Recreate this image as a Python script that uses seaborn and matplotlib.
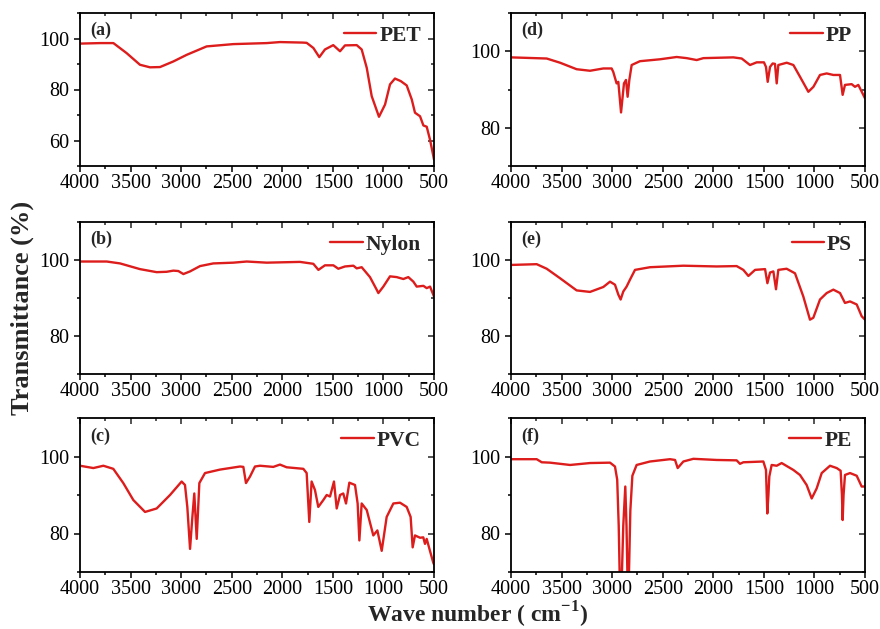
import numpy as np
import pandas as pd
import seaborn as sns
import matplotlib.pyplot as plt
from matplotlib.ticker import MultipleLocator

sns.set_style("ticks")
plt.rcParams['font.family'] = ['Liberation Serif', 'DejaVu Serif']
plt.rcParams['mathtext.fontset'] = 'custom'
plt.rcParams['mathtext.rm'] = 'Liberation Serif'
plt.rcParams['mathtext.bf'] = 'Liberation Serif:bold'

# spectra: wavenumber (cm-1) and transmittance (%)
pet_wn = [4000, 3800, 3670, 3540, 3407, 3308, 3209, 3077, 2945, 2748, 2484, 2154, 2023, 1800, 1759,
          1693, 1634, 1578, 1496, 1429, 1380, 1264, 1215, 1165, 1116, 1044, 984, 935, 886, 829,
          770, 720, 688, 638, 605, 572, 540, 507, 500]
pet_t = [98.0, 98.2, 98.2, 94.3, 89.7, 88.7, 88.8, 91.0, 93.6, 96.9, 97.8, 98.2, 98.6, 98.4, 98.3,
         96.3, 92.7, 95.7, 97.4, 95.0, 97.3, 97.4, 95.7, 88.5, 77.4, 69.3, 74.1, 82.0, 84.3, 83.3,
         81.6, 76.1, 70.9, 69.5, 65.9, 65.4, 60.4, 54.0, 52.5]

nylon_wn = [4000, 3736, 3604, 3407, 3242, 3143, 3077, 3028, 2978, 2912, 2813, 2682, 2484, 2352,
            2154, 1825, 1693, 1643, 1578, 1495, 1446, 1380, 1297, 1264, 1215, 1133, 1067, 1050,
            1001, 935, 869, 803, 754, 704, 671, 605, 572, 539, 500]
nylon_t = [99.6, 99.6, 99.1, 97.6, 96.8, 96.9, 97.2, 97.1, 96.3, 97.0, 98.4, 99.1, 99.3, 99.6,
           99.3, 99.5, 99.0, 97.4, 98.6, 98.6, 97.7, 98.3, 98.5, 97.8, 98.1, 95.5, 92.2, 91.3,
           93.0, 95.7, 95.5, 95.0, 95.5, 94.3, 93.0, 93.2, 92.6, 93.0, 90.4]

pvc_wn = [4000, 3868, 3769, 3671, 3572, 3473, 3357, 3242, 3110, 2995, 2962, 2939, 2912, 2889,
          2870, 2846, 2820, 2764, 2616, 2418, 2385, 2359, 2319, 2270, 2220, 2089, 2023, 1957,
          1792, 1759, 1733, 1710, 1677, 1644, 1594, 1561, 1528, 1489, 1462, 1429, 1397, 1370,
          1337, 1281, 1255, 1238, 1215, 1165, 1100, 1060, 1017, 968, 902, 836, 770, 731, 711,
          688, 638, 606, 589, 572, 540, 507, 500]
pvc_t = [97.6, 97.0, 97.6, 96.8, 93.1, 88.7, 85.6, 86.5, 90.0, 93.5, 92.6, 86.9, 76.0, 84.3,
         90.4, 78.6, 93.1, 95.7, 96.6, 97.4, 97.3, 93.1, 94.8, 97.4, 97.6, 97.3, 97.9, 97.2,
         96.8, 95.7, 83.0, 93.5, 91.3, 86.9, 88.7, 90.0, 89.6, 93.5, 86.5, 90.0, 90.4, 87.8,
         93.2, 92.6, 87.8, 78.2, 87.8, 86.1, 79.5, 80.8, 75.5, 84.3, 87.8, 88.0, 86.9, 84.3, 76.4,
         79.5, 78.9, 79.0, 77.3, 78.6, 75.5, 72.4, 72.0]

pp_wn = [4000, 3647, 3515, 3351, 3219, 3087, 3005, 2989, 2956, 2939, 2912, 2883, 2863, 2847,
         2830, 2807, 2725, 2527, 2362, 2263, 2164, 2098, 1802, 1719, 1637, 1571, 1499, 1479,
         1462, 1439, 1413, 1390, 1373, 1357, 1274, 1208, 1142, 1060, 1010, 945, 879, 813, 747,
         721, 698, 632, 599, 566, 500]
pp_t = [98.4, 98.1, 97.0, 95.3, 94.9, 95.5, 95.5, 94.6, 91.6, 92.0, 84.0, 91.6, 92.5, 88.1,
        92.5, 96.4, 97.4, 97.9, 98.5, 98.2, 97.7, 98.2, 98.4, 98.1, 96.4, 97.1, 97.1, 95.9,
        92.0, 95.9, 96.8, 96.7, 91.6, 96.4, 97.0, 96.4, 93.3, 89.4, 90.7, 93.8, 94.2, 93.8, 93.8,
        88.6, 91.2, 91.4, 90.7, 91.2, 87.7]

ps_wn = [4000, 3746, 3647, 3515, 3351, 3219, 3087, 3021, 2972, 2939, 2916, 2890, 2857, 2824,
         2774, 2626, 2296, 1967, 1769, 1703, 1653, 1587, 1488, 1465, 1439, 1406, 1380, 1357,
         1275, 1192, 1110, 1044, 1011, 945, 879, 813, 747, 698, 648, 582, 533, 500]
ps_t = [98.7, 98.9, 97.7, 95.2, 92.0, 91.6, 92.9, 94.3, 93.5, 90.9, 89.6, 91.7, 93.0, 94.8,
        97.4, 98.1, 98.5, 98.3, 98.4, 97.4, 95.8, 97.4, 97.6, 93.9, 96.7, 97.0, 92.3, 97.4,
        97.7, 96.5, 90.4, 84.3, 84.8, 89.6, 91.3, 92.2, 91.3, 88.7, 89.1, 88.3, 85.2, 84.3]

pe_wn = [4000, 3746, 3696, 3614, 3416, 3219, 3021, 2972, 2950, 2935, 2920, 2905, 2890, 2870,
         2858, 2845, 2835, 2820, 2800, 2758, 2626, 2428, 2378, 2352, 2296, 2197, 1967, 1769,
         1736, 1703, 1505, 1479, 1466, 1455, 1446, 1423, 1373, 1324, 1208, 1143, 1077, 1027, 978,
         928, 846, 780, 741, 728, 721, 712, 698, 648, 582, 533, 500]
pe_t = [99.3, 99.3, 98.5, 98.4, 97.8, 98.3, 98.4, 97.4, 94.0, 82.0, 62.0, 68.0, 82.0, 92.2,
        82.0, 64.0, 68.0, 86.0, 95.0, 97.8, 98.7, 99.3, 99.1, 97.0, 98.7, 99.4, 99.1, 99.0,
        98.1, 98.5, 98.7, 96.5, 85.2, 90.0, 94.8, 97.8, 97.6, 98.3, 96.5, 95.2, 92.6, 89.1, 91.7,
        95.7, 97.6, 97.0, 96.3, 90.0, 83.5, 90.0, 95.2, 95.7, 95.0, 92.2, 92.2]

panels = [
    ("(a)", "PET", pet_wn, pet_t, (50, 110)),
    ("(b)", "Nylon", nylon_wn, nylon_t, (70, 110)),
    ("(c)", "PVC", pvc_wn, pvc_t, (70, 110)),
    ("(d)", "PP", pp_wn, pp_t, (70, 110)),
    ("(e)", "PS", ps_wn, ps_t, (70, 110)),
    ("(f)", "PE", pe_wn, pe_t, (70, 110)),
]

W, H = 880, 629
fig = plt.figure(figsize=(W / 100, H / 100), dpi=100)

lefts = [80, 80, 80, 511, 511, 511]
rows = [(13, 166), (222, 374), (418, 572)] * 2
red = "#dd1c1c"


def set_ticks(axis, major, minor):
    axis.set_major_locator(MultipleLocator(major))
    axis.set_minor_locator(MultipleLocator(minor))


for i, (tag, name, wn, t, ylim) in enumerate(panels):
    top, bot = rows[i]
    ax = fig.add_axes([lefts[i] / W, 1 - bot / H, 354 / W, (bot - top) / H])
    df = pd.DataFrame({"wn": wn, "T": t})
    sns.lineplot(data=df, x="wn", y="T", ax=ax, color=red, linewidth=1.7,
                 estimator=None, label=name)
    ax.set_xlim(4000, 500)
    ax.set_ylim(*ylim)
    set_ticks(ax.xaxis, 500, 250)
    set_ticks(ax.yaxis, 20, 10)
    ax.set_xlabel("")
    ax.set_ylabel("")
    ax.tick_params(which="both", direction="out", labelsize=14.5, colors="black", width=1.1)
    ax.tick_params(axis="x", which="both", pad=2)
    ax.tick_params(which="major", length=4)
    ax.tick_params(which="minor", length=2.5)
    for s in ax.spines.values():
        s.set_visible(True)
        s.set_linewidth(1.3)
        s.set_color("black")
    # mirrored ticks on top / right, pointing inwards
    sx = ax.secondary_xaxis("top")
    set_ticks(sx.xaxis, 500, 250)
    sx.tick_params(which="both", direction="in", labeltop=False, width=1.1)
    sx.tick_params(which="major", length=4)
    sx.tick_params(which="minor", length=2.5)
    sy = ax.secondary_yaxis("right")
    set_ticks(sy.yaxis, 20, 10)
    sy.tick_params(which="both", direction="in", labelright=False, width=1.1)
    sy.tick_params(which="major", length=4)
    sy.tick_params(which="minor", length=2.5)
    for s in list(sx.spines.values()) + list(sy.spines.values()):
        s.set_visible(False)
    ax.text(0.03, 0.94, tag, transform=ax.transAxes, fontsize=13, fontweight="bold",
            va="top", ha="left")
    ax.legend(loc="upper right", frameon=False, handlelength=1.5, handletextpad=0.15,
              borderaxespad=0.2, prop={"weight": "bold", "size": 15.5})

fig.text(22 / W, 1 - 308 / H, "Transmittance (%)", rotation=90, fontsize=19,
         fontweight="bold", ha="center", va="center")
fig.text(478 / W, 1 - 623 / H, r"Wave number ( cm$^{\mathbf{-1}}$)", fontsize=17,
         fontweight="bold", ha="center", va="baseline")

fig.savefig("out.png", dpi=100)
